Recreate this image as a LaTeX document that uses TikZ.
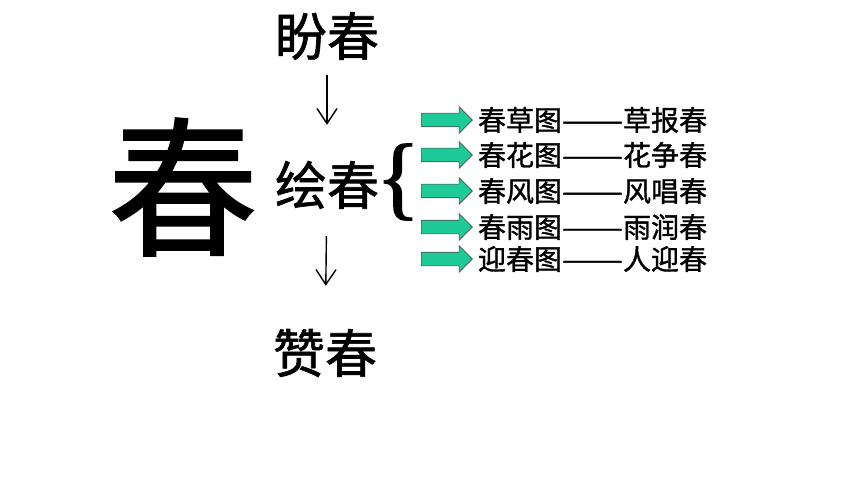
\documentclass[tikz,border=0pt]{standalone}
\usepackage{fontspec}
\setmainfont{Noto Sans CJK SC}[FakeBold=1.2]
\newfontfamily\bracefont{Liberation Serif}[FakeBold=1.5]
\usepackage{tikz}
\usetikzlibrary{positioning,arrows.meta}
\usetikzlibrary{shapes.arrows}
\definecolor{arrowgreen}{RGB}{30,202,152}
\newcommand{\dashes}{\scalebox{1.3}[1]{——}}
\tikzset{
  word/.style={inner sep=0pt, font=\fontsize{52}{52}\selectfont},
  row/.style={inner sep=0pt, anchor=west, font=\fontsize{28}{28}\selectfont},
  greenarr/.style={draw=black!70, line width=0.6pt, fill=arrowgreen, shape=single arrow, single arrow head extend=6.5pt, minimum height=51pt, inner xsep=0pt, inner ysep=6.5pt},
  downarr/.style={-{Straight Barb[length=15pt,width=20pt,line width=1.4pt]}, line width=1.4pt}
}
\begin{document}
\begin{tikzpicture}[x=1pt, y=1pt]
\useasboundingbox (0,0) rectangle (860,-484);
\node[inner sep=0pt, font=\fontsize{150}{150}\selectfont] (chun) at (183,-187) {春};
\node[word] (pan) at (327,-36) {盼春};
\node[word] (hui) at (327,-185) {绘春};
\node[word] (zan) at (325,-353) {赞春};
\node[inner sep=0pt, font=\bracefont\fontsize{92}{92}\selectfont] (br) at (398,-182) {\{};
\draw[downarr, shorten <=15pt, shorten >=36pt] (pan) -- (hui);
\draw[downarr, shorten <=27pt, shorten >=43pt] (hui) -- (zan);
% five rows, arrow then text
\node[greenarr] (a1) at (443.5,-120) {};
\node[greenarr] (a2) at (443.5,-155) {};
\node[greenarr] (a3) at (443.5,-191) {};
\node[greenarr] (a4) at (443.5,-227) {};
\node[greenarr] (a5) at (443.5,-259) {};
\node[row, right=5pt of a1.tip] (t1) {春草图\dashes 草报春};
\node[row, right=5pt of a2.tip] (t2) {春花图\dashes 花争春};
\node[row, right=5pt of a3.tip] (t3) {春风图\dashes 风唱春};
\node[row, right=5pt of a4.tip] (t4) {春雨图\dashes 雨润春};
\node[row, right=5pt of a5.tip] (t5) {迎春图\dashes 人迎春};
\end{tikzpicture}
\end{document}
